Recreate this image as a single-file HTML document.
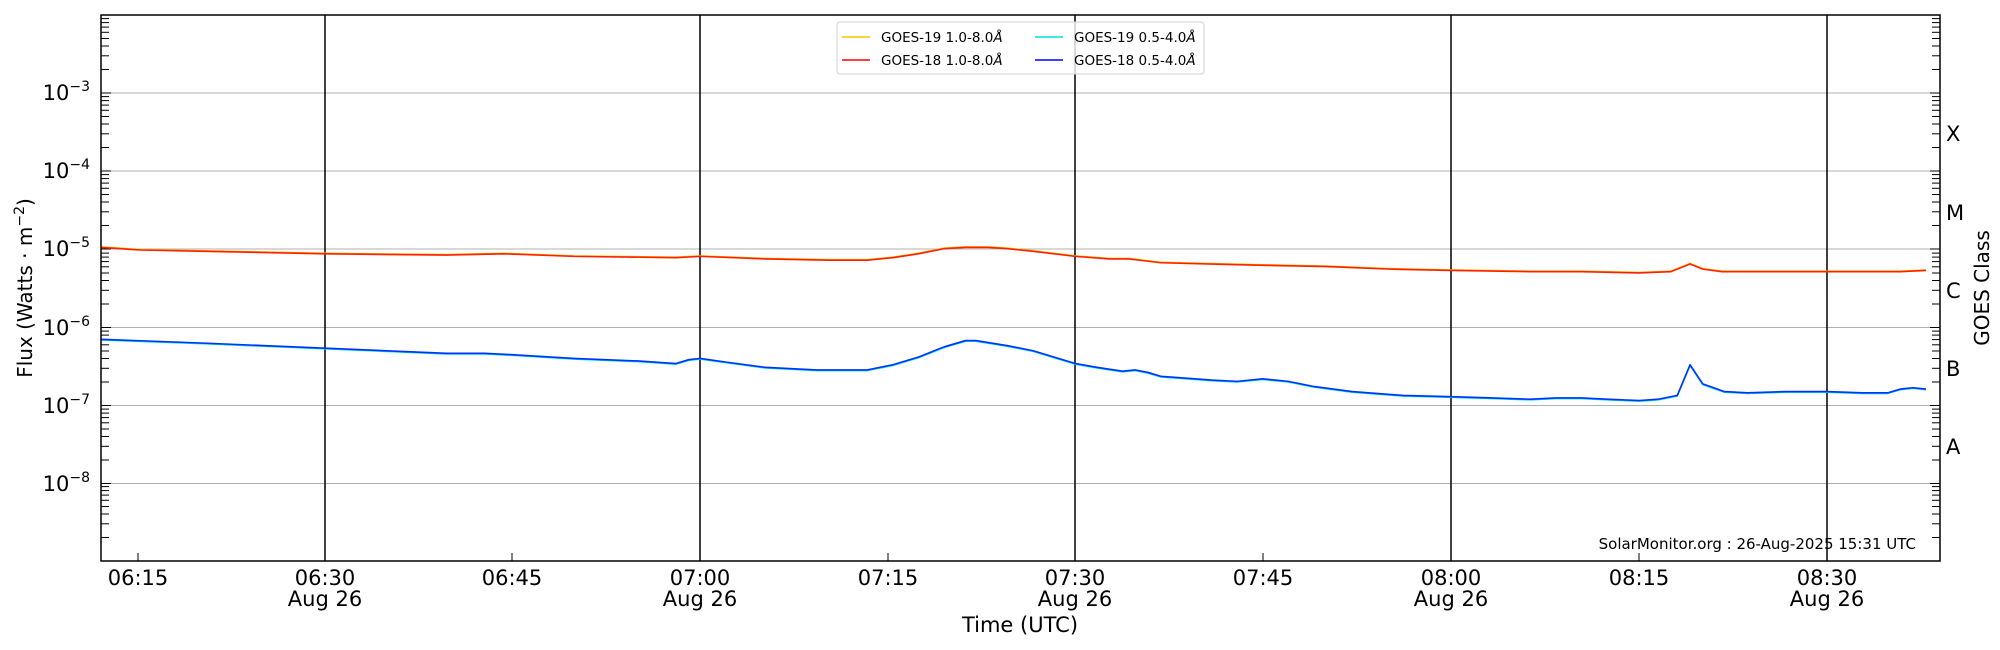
<!DOCTYPE html>
<html><head><meta charset="utf-8"><style>
html,body{margin:0;padding:0;background:#fff;}
svg{display:block;font-family:"DejaVu Sans","Liberation Sans",sans-serif;}
</style></head><body>
<svg width="2000" height="650" viewBox="0 0 2000 650" xmlns="http://www.w3.org/2000/svg">
<defs>
<g id="mL" stroke="#000" stroke-width="1">
<line x1="0" x2="8" y1="-23.5" y2="-23.5"/><line x1="0" x2="8" y1="-37.2" y2="-37.2"/><line x1="0" x2="8" y1="-47" y2="-47"/><line x1="0" x2="8" y1="-54.5" y2="-54.5"/><line x1="0" x2="8" y1="-60.7" y2="-60.7"/><line x1="0" x2="8" y1="-65.9" y2="-65.9"/><line x1="0" x2="8" y1="-70.4" y2="-70.4"/><line x1="0" x2="8" y1="-74.4" y2="-74.4"/>
<line x1="0" x2="10" y1="0" y2="0"/>
</g>
</defs>
<g stroke="#b0b0b0" stroke-width="1">
<line x1="101" x2="1940" y1="93" y2="93"/><line x1="101" x2="1940" y1="171" y2="171"/><line x1="101" x2="1940" y1="249" y2="249"/><line x1="101" x2="1940" y1="327.5" y2="327.5"/><line x1="101" x2="1940" y1="405.5" y2="405.5"/><line x1="101" x2="1940" y1="483.5" y2="483.5"/>
</g>
<g stroke="#000" stroke-width="1.5">
<line x1="325" x2="325" y1="15" y2="561"/><line x1="700" x2="700" y1="15" y2="561"/><line x1="1075" x2="1075" y1="15" y2="561"/><line x1="1451" x2="1451" y1="15" y2="561"/><line x1="1827" x2="1827" y1="15" y2="561"/>
</g>
<g>
<use href="#mL" transform="translate(101,93)"/><use href="#mL" transform="translate(101,171)"/><use href="#mL" transform="translate(101,249)"/><use href="#mL" transform="translate(101,327.5)"/><use href="#mL" transform="translate(101,405.5)"/><use href="#mL" transform="translate(101,483.5)"/><use href="#mL" transform="translate(101,561)"/>
<use href="#mL" transform="translate(1940,93) scale(-1,1)"/><use href="#mL" transform="translate(1940,171) scale(-1,1)"/><use href="#mL" transform="translate(1940,249) scale(-1,1)"/><use href="#mL" transform="translate(1940,327.5) scale(-1,1)"/><use href="#mL" transform="translate(1940,405.5) scale(-1,1)"/><use href="#mL" transform="translate(1940,483.5) scale(-1,1)"/><use href="#mL" transform="translate(1940,561) scale(-1,1)"/>
</g>
<g stroke="#000" stroke-width="1">
<line x1="138" x2="138" y1="561" y2="553"/><line x1="512" x2="512" y1="561" y2="553"/><line x1="888" x2="888" y1="561" y2="553"/><line x1="1263" x2="1263" y1="561" y2="553"/><line x1="1639" x2="1639" y1="561" y2="553"/>
</g>
<g transform="scale(1.2755)" fill="none" stroke-width="1.25" stroke-linejoin="round">
<polyline stroke="#ffc000" transform="translate(0,-0.4)" points="79,194 110,196 160,197 255,199 350,200 395,199 450,201 530,202 549,201 600,203 650,204 680,204 700,202 720,199 740,195 757,194 775,194 790,195 810,197 843,201 870,203 885,203 910,206 950,207 990,208 1040,209 1090,211 1138,212 1200,213 1240,213 1285,214 1310,213 1325,207 1335,211 1350,213 1400,213 1432,213 1460,213 1490,213 1510,212"/>
<polyline stroke="#ff2000" points="79,194 110,196 160,197 255,199 350,200 395,199 450,201 530,202 549,201 600,203 650,204 680,204 700,202 720,199 740,195 757,194 775,194 790,195 810,197 843,201 870,203 885,203 910,206 950,207 990,208 1040,209 1090,211 1138,212 1200,213 1240,213 1285,214 1310,213 1325,207 1335,211 1350,213 1400,213 1432,213 1460,213 1490,213 1510,212"/>
<polyline stroke="#00e0e0" transform="translate(0,0.5)" points="79,266 160,269 255,273 350,277 380,277 400,278 450,281 500,283 530,285 540,282 549,281 570,284 600,288 640,290 680,290 700,286 720,280 740,272 757,267 765,267 790,271 810,275 843,285 860,288 880,291 890,290 900,292 910,295 950,298 970,299 990,297 1010,299 1030,303 1060,307 1100,310 1138,311 1170,312 1200,313 1220,312 1240,312 1260,313 1285,314 1300,313 1315,310 1325,286 1335,301 1352,307 1370,308 1400,307 1432,307 1460,308 1480,308 1490,305 1500,304 1510,305"/>
<polyline stroke="#0030ff" points="79,266 160,269 255,273 350,277 380,277 400,278 450,281 500,283 530,285 540,282 549,281 570,284 600,288 640,290 680,290 700,286 720,280 740,272 757,267 765,267 790,271 810,275 843,285 860,288 880,291 890,290 900,292 910,295 950,298 970,299 990,297 1010,299 1030,303 1060,307 1100,310 1138,311 1170,312 1200,313 1220,312 1240,312 1260,313 1285,314 1300,313 1315,310 1325,286 1335,301 1352,307 1370,308 1400,307 1432,307 1460,308 1480,308 1490,305 1500,304 1510,305"/>
</g>
<rect x="101" y="15" width="1839" height="546" fill="none" stroke="#000" stroke-width="1.5"/>
<rect x="837" y="22" width="367" height="52" rx="3" fill="#fff" fill-opacity="0.8" stroke="#d0d0d0"/>
<g stroke-width="1.5">
<line x1="842" x2="870" y1="37" y2="37" stroke="#ffc000"/><line x1="842" x2="870" y1="60" y2="60" stroke="#ff0000"/>
<line x1="1035" x2="1063" y1="37" y2="37" stroke="#00e0e0"/><line x1="1035" x2="1063" y1="60" y2="60" stroke="#0000ff"/>
</g>
<g font-size="13.5" fill="#000">
<text x="881" y="42">GOES-19 1.0-8.0<tspan font-style="italic">Å</tspan></text>
<text x="881" y="65">GOES-18 1.0-8.0<tspan font-style="italic">Å</tspan></text>
<text x="1074" y="42">GOES-19 0.5-4.0<tspan font-style="italic">Å</tspan></text>
<text x="1074" y="65">GOES-18 0.5-4.0<tspan font-style="italic">Å</tspan></text>
</g>
<g font-size="21" text-anchor="end">
<text x="90" y="100">10<tspan font-size="14" dy="-9">−3</tspan></text>
<text x="90" y="178">10<tspan font-size="14" dy="-9">−4</tspan></text>
<text x="90" y="256">10<tspan font-size="14" dy="-9">−5</tspan></text>
<text x="90" y="335">10<tspan font-size="14" dy="-9">−6</tspan></text>
<text x="90" y="413">10<tspan font-size="14" dy="-9">−7</tspan></text>
<text x="90" y="491">10<tspan font-size="14" dy="-9">−8</tspan></text>
</g>
<text transform="translate(32,288) rotate(-90)" font-size="20" text-anchor="middle">Flux (Watts · m<tspan font-size="14" dy="-8">−2</tspan><tspan dy="8">)</tspan></text>
<g font-size="21">
<text x="1946" y="141">X</text><text x="1946" y="220">M</text><text x="1946" y="298">C</text><text x="1946" y="376">B</text><text x="1946" y="454">A</text>
</g>
<text transform="translate(1989,288) rotate(-90)" font-size="20" text-anchor="middle">GOES Class</text>
<g font-size="21" text-anchor="middle">
<text x="138" y="585">06:15</text>
<text x="325" y="585">06:30</text><text x="325" y="606">Aug 26</text>
<text x="512" y="585">06:45</text>
<text x="700" y="585">07:00</text><text x="700" y="606">Aug 26</text>
<text x="888" y="585">07:15</text>
<text x="1075" y="585">07:30</text><text x="1075" y="606">Aug 26</text>
<text x="1263" y="585">07:45</text>
<text x="1451" y="585">08:00</text><text x="1451" y="606">Aug 26</text>
<text x="1639" y="585">08:15</text>
<text x="1827" y="585">08:30</text><text x="1827" y="606">Aug 26</text>
<text x="1020" y="632">Time (UTC)</text>
</g>
<text x="1916" y="549" font-size="15" text-anchor="end">SolarMonitor.org : 26-Aug-2025 15:31 UTC</text>
</svg>
</body></html>
